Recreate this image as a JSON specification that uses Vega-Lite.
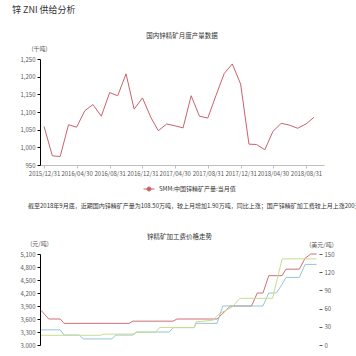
{
  "$schema": "https://vega.github.io/schema/vega-lite/v6.json",
  "background": "white",
  "padding": {"left": 12, "top": 6, "right": 0, "bottom": 0},
  "title": {"text": "锌 ZNI 供给分析", "anchor": "start", "fontSize": 9, "color": "#333333", "fontWeight": "normal", "offset": 18, "dx": -8},
  "spacing": 10,
  "resolve": {"scale": {"color": "independent", "x": "independent", "y": "independent"}, "legend": {"color": "independent"}},
  "config": {
    "font": "Noto Sans CJK SC",
    "view": {"stroke": null},
    "axis": {"labelFontSize": 6, "labelColor": "#595959", "titleFontSize": 6, "titleFontWeight": "normal", "titleColor": "#595959", "grid": false, "tickSize": 3, "domainColor": "#000000", "tickColor": "#000000", "labelPadding": 2},
    "axisLeft": {"titleAngle": 0, "titleAlign": "center", "titleBaseline": "middle", "titleX": -1, "titleY": -10.5},
    "axisRight": {"titleAngle": 0, "titleAlign": "center", "titleBaseline": "middle", "titleX": 2, "titleY": -10},
    "title": {"fontSize": 6.5, "fontWeight": "normal", "color": "#333333"},
    "legend": {"labelFontSize": 6, "labelColor": "#333333"}
  },
  "datasets": {
    "top": [
      {"month": "2015/12/31", "name": "SMM:中国锌精矿产量:当月值", "output": 1059},
      {"month": "2016/01/31", "name": "SMM:中国锌精矿产量:当月值", "output": 976},
      {"month": "2016/02/29", "name": "SMM:中国锌精矿产量:当月值", "output": 974},
      {"month": "2016/03/31", "name": "SMM:中国锌精矿产量:当月值", "output": 1064},
      {"month": "2016/04/30", "name": "SMM:中国锌精矿产量:当月值", "output": 1057},
      {"month": "2016/05/31", "name": "SMM:中国锌精矿产量:当月值", "output": 1104},
      {"month": "2016/06/30", "name": "SMM:中国锌精矿产量:当月值", "output": 1121},
      {"month": "2016/07/31", "name": "SMM:中国锌精矿产量:当月值", "output": 1088},
      {"month": "2016/08/31", "name": "SMM:中国锌精矿产量:当月值", "output": 1155},
      {"month": "2016/09/30", "name": "SMM:中国锌精矿产量:当月值", "output": 1146},
      {"month": "2016/10/31", "name": "SMM:中国锌精矿产量:当月值", "output": 1208},
      {"month": "2016/11/30", "name": "SMM:中国锌精矿产量:当月值", "output": 1108},
      {"month": "2016/12/31", "name": "SMM:中国锌精矿产量:当月值", "output": 1140},
      {"month": "2017/01/31", "name": "SMM:中国锌精矿产量:当月值", "output": 1085},
      {"month": "2017/02/28", "name": "SMM:中国锌精矿产量:当月值", "output": 1047},
      {"month": "2017/03/31", "name": "SMM:中国锌精矿产量:当月值", "output": 1066},
      {"month": "2017/04/30", "name": "SMM:中国锌精矿产量:当月值", "output": 1061},
      {"month": "2017/05/31", "name": "SMM:中国锌精矿产量:当月值", "output": 1055},
      {"month": "2017/06/30", "name": "SMM:中国锌精矿产量:当月值", "output": 1146},
      {"month": "2017/07/31", "name": "SMM:中国锌精矿产量:当月值", "output": 1088},
      {"month": "2017/08/31", "name": "SMM:中国锌精矿产量:当月值", "output": 1083},
      {"month": "2017/09/30", "name": "SMM:中国锌精矿产量:当月值", "output": 1146},
      {"month": "2017/10/31", "name": "SMM:中国锌精矿产量:当月值", "output": 1209},
      {"month": "2017/11/30", "name": "SMM:中国锌精矿产量:当月值", "output": 1236},
      {"month": "2017/12/31", "name": "SMM:中国锌精矿产量:当月值", "output": 1179},
      {"month": "2018/01/31", "name": "SMM:中国锌精矿产量:当月值", "output": 1009},
      {"month": "2018/02/28", "name": "SMM:中国锌精矿产量:当月值", "output": 1008},
      {"month": "2018/03/31", "name": "SMM:中国锌精矿产量:当月值", "output": 993},
      {"month": "2018/04/30", "name": "SMM:中国锌精矿产量:当月值", "output": 1045},
      {"month": "2018/05/31", "name": "SMM:中国锌精矿产量:当月值", "output": 1068},
      {"month": "2018/06/30", "name": "SMM:中国锌精矿产量:当月值", "output": 1063},
      {"month": "2018/07/31", "name": "SMM:中国锌精矿产量:当月值", "output": 1054},
      {"month": "2018/08/31", "name": "SMM:中国锌精矿产量:当月值", "output": 1066},
      {"month": "2018/09/30", "name": "SMM:中国锌精矿产量:当月值", "output": 1085}
    ],
    "left": [
      {"date": "2015/12/24", "series": "国产锌精矿加工费", "rmb": 3800},
      {"date": "2016/01/21", "series": "国产锌精矿加工费", "rmb": 3600},
      {"date": "2016/03/03", "series": "国产锌精矿加工费", "rmb": 3600},
      {"date": "2016/03/17", "series": "国产锌精矿加工费", "rmb": 3500},
      {"date": "2016/11/10", "series": "国产锌精矿加工费", "rmb": 3500},
      {"date": "2016/11/24", "series": "国产锌精矿加工费", "rmb": 3550},
      {"date": "2017/04/20", "series": "国产锌精矿加工费", "rmb": 3550},
      {"date": "2017/05/04", "series": "国产锌精矿加工费", "rmb": 3600},
      {"date": "2017/09/28", "series": "国产锌精矿加工费", "rmb": 3600},
      {"date": "2017/11/16", "series": "国产锌精矿加工费", "rmb": 3900},
      {"date": "2018/02/01", "series": "国产锌精矿加工费", "rmb": 3900},
      {"date": "2018/02/22", "series": "国产锌精矿加工费", "rmb": 4200},
      {"date": "2018/03/15", "series": "国产锌精矿加工费", "rmb": 4200},
      {"date": "2018/04/05", "series": "国产锌精矿加工费", "rmb": 4600},
      {"date": "2018/05/24", "series": "国产锌精矿加工费", "rmb": 4600},
      {"date": "2018/06/07", "series": "国产锌精矿加工费", "rmb": 4750},
      {"date": "2018/07/26", "series": "国产锌精矿加工费", "rmb": 4750},
      {"date": "2018/08/16", "series": "国产锌精矿加工费", "rmb": 5000},
      {"date": "2018/09/06", "series": "国产锌精矿加工费", "rmb": 5100},
      {"date": "2018/09/27", "series": "国产锌精矿加工费", "rmb": 5100},
      {"date": "2015/12/24", "series": "南方锌精矿加工费", "rmb": 3350},
      {"date": "2016/03/03", "series": "南方锌精矿加工费", "rmb": 3350},
      {"date": "2016/03/17", "series": "南方锌精矿加工费", "rmb": 3230},
      {"date": "2016/05/12", "series": "南方锌精矿加工费", "rmb": 3230},
      {"date": "2016/05/26", "series": "南方锌精矿加工费", "rmb": 3140},
      {"date": "2016/09/08", "series": "南方锌精矿加工费", "rmb": 3140},
      {"date": "2016/09/22", "series": "南方锌精矿加工费", "rmb": 3230},
      {"date": "2016/11/24", "series": "南方锌精矿加工费", "rmb": 3230},
      {"date": "2016/12/08", "series": "南方锌精矿加工费", "rmb": 3300},
      {"date": "2017/04/06", "series": "南方锌精矿加工费", "rmb": 3300},
      {"date": "2017/04/20", "series": "南方锌精矿加工费", "rmb": 3400},
      {"date": "2017/07/06", "series": "南方锌精矿加工费", "rmb": 3400},
      {"date": "2017/07/13", "series": "南方锌精矿加工费", "rmb": 3500},
      {"date": "2017/09/28", "series": "南方锌精矿加工费", "rmb": 3500},
      {"date": "2017/10/19", "series": "南方锌精矿加工费", "rmb": 3900},
      {"date": "2018/03/15", "series": "南方锌精矿加工费", "rmb": 3900},
      {"date": "2018/04/05", "series": "南方锌精矿加工费", "rmb": 4200},
      {"date": "2018/05/03", "series": "南方锌精矿加工费", "rmb": 4200},
      {"date": "2018/05/24", "series": "南方锌精矿加工费", "rmb": 4400},
      {"date": "2018/06/07", "series": "南方锌精矿加工费", "rmb": 4560},
      {"date": "2018/07/26", "series": "南方锌精矿加工费", "rmb": 4560},
      {"date": "2018/08/16", "series": "南方锌精矿加工费", "rmb": 4860},
      {"date": "2018/09/27", "series": "南方锌精矿加工费", "rmb": 4860}
    ],
    "right": [
      {"date": "2015/12/24", "series": "进口锌精矿加工费", "usd": 16},
      {"date": "2016/07/28", "series": "进口锌精矿加工费", "usd": 16},
      {"date": "2016/08/11", "series": "进口锌精矿加工费", "usd": 18},
      {"date": "2016/11/24", "series": "进口锌精矿加工费", "usd": 18},
      {"date": "2016/12/08", "series": "进口锌精矿加工费", "usd": 21},
      {"date": "2017/02/16", "series": "进口锌精矿加工费", "usd": 21},
      {"date": "2017/03/02", "series": "进口锌精矿加工费", "usd": 29},
      {"date": "2017/07/06", "series": "进口锌精矿加工费", "usd": 29},
      {"date": "2017/07/13", "series": "进口锌精矿加工费", "usd": 38},
      {"date": "2017/09/14", "series": "进口锌精矿加工费", "usd": 41},
      {"date": "2017/10/05", "series": "进口锌精矿加工费", "usd": 51},
      {"date": "2017/11/23", "series": "进口锌精矿加工费", "usd": 63},
      {"date": "2017/12/21", "series": "进口锌精矿加工费", "usd": 77},
      {"date": "2018/04/19", "series": "进口锌精矿加工费", "usd": 77},
      {"date": "2018/05/24", "series": "进口锌精矿加工费", "usd": 142},
      {"date": "2018/09/27", "series": "进口锌精矿加工费", "usd": 142}
    ]
  },
  "vconcat": [
    {
      "width": 284,
      "height": 106,
      "title": {"text": "国内锌精矿月度产量数据", "offset": 6},
      "data": {"name": "top"},
      "mark": {"type": "line", "strokeWidth": 1},
      "encoding": {
        "x": {
          "field": "month", "type": "temporal",
          "scale": {"domain": [{"year": 2015, "month": 12, "date": 16}, {"year": 2018, "month": 11, "date": 6}]},
          "axis": {
            "title": null, "format": "%Y/%m/%d", "labelAngle": 0, "labelOverlap": false,
            "domainColor": "#bfbfbf", "tickColor": "#bfbfbf",
            "values": [
              {"year": 2015, "month": 12, "date": 31}, {"year": 2016, "month": 4, "date": 30},
              {"year": 2016, "month": 8, "date": 31}, {"year": 2016, "month": 12, "date": 31},
              {"year": 2017, "month": 4, "date": 30}, {"year": 2017, "month": 8, "date": 31},
              {"year": 2017, "month": 12, "date": 31}, {"year": 2018, "month": 4, "date": 30},
              {"year": 2018, "month": 8, "date": 31}
            ]
          }
        },
        "y": {
          "field": "output", "type": "quantitative",
          "scale": {"domain": [950, 1250]},
          "axis": {"values": [950, 1000, 1050, 1100, 1150, 1200, 1250], "format": ",.0f", "title": "(千吨)"}
        },
        "color": {
          "field": "name", "type": "nominal",
          "scale": {"range": ["#c9636b"]},
          "legend": {"orient": "none", "legendX": 103, "legendY": 124, "title": null, "symbolType": "M-1,0H1M0.36,0A0.36,0.36,0,1,1,-0.36,0A0.36,0.36,0,1,1,0.36,0Z", "symbolSize": 121, "symbolStrokeWidth": 1, "symbolFillColor": "#d9534f", "symbolStrokeColor": "#d9534f"}
        }
      }
    },
    {
      "title": {"text": "截至2018年9月底，近期国内锌精矿产量为108.50万吨，较上月增加1.90万吨，同比上涨；国产锌精矿加工费较上月上涨200元/吨，同比上涨；进口锌精矿加工费较上月持平", "anchor": "start", "fontSize": 6, "color": "#333333", "offset": 25, "dx": 8, "limit": 0},
      "vconcat": [
        {
          "width": 279,
          "height": 91,
          "title": {"text": "锌精矿加工费价格走势", "offset": 0},
          "layer": [
            {
              "data": {"name": "left"},
              "mark": {"type": "line", "strokeWidth": 1},
              "encoding": {
                "x": {
                  "field": "date", "type": "temporal",
                  "scale": {"domain": [{"year": 2015, "month": 12, "date": 20}, {"year": 2018, "month": 10, "date": 6}]},
                  "axis": {
                    "title": null, "format": "%Y/%m/%d", "labelAngle": 0, "labelOverlap": false,
                    "domainColor": "#bfbfbf", "tickColor": "#bfbfbf",
                    "values": [
                      {"year": 2015, "month": 12, "date": 31}, {"year": 2016, "month": 5, "date": 7},
                      {"year": 2016, "month": 9, "date": 12}, {"year": 2017, "month": 1, "date": 18},
                      {"year": 2017, "month": 5, "date": 26}, {"year": 2017, "month": 10, "date": 1},
                      {"year": 2018, "month": 2, "date": 6}, {"year": 2018, "month": 6, "date": 14}
                    ]
                  }
                },
                "y": {
                  "field": "rmb", "type": "quantitative",
                  "scale": {"domain": [3000, 5100]},
                  "axis": {"orient": "left", "values": [3000, 3300, 3600, 3900, 4200, 4500, 4800, 5100], "format": ",.0f", "title": "(元/吨)", "titleX": -1, "titlePadding": -22}
                },
                "color": {
                  "field": "series", "type": "nominal",
                  "scale": {"domain": ["国产锌精矿加工费", "南方锌精矿加工费", "进口锌精矿加工费"], "range": ["#cf6f77", "#93c6d6", "#c8dc8e"]},
                  "legend": null
                }
              }
            },
            {
              "data": {"name": "right"},
              "mark": {"type": "line", "strokeWidth": 1},
              "encoding": {
                "x": {"field": "date", "type": "temporal", "axis": null},
                "y": {
                  "field": "usd", "type": "quantitative",
                  "scale": {"domain": [0, 150]},
                  "axis": {"orient": "right", "values": [0, 30, 60, 90, 120, 150], "title": "(美元/吨)", "domain": false, "tickColor": "#595959"}
                },
                "color": {"field": "series", "type": "nominal", "legend": null}
              }
            }
          ],
          "resolve": {"scale": {"y": "independent"}, "axis": {"y": "independent"}}
        }
      ]
    }
  ]
}
